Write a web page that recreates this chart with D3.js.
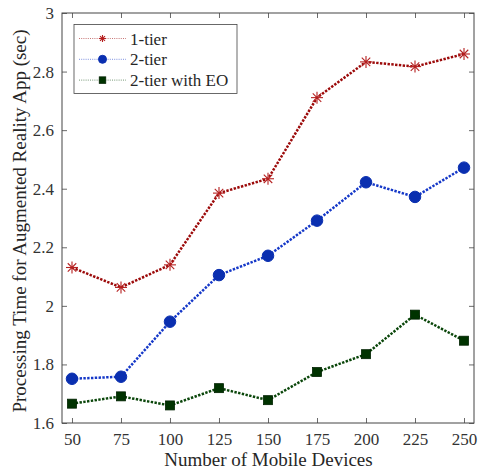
<!DOCTYPE html>
<html>
<head>
<meta charset="utf-8">
<script src="https://cdn.jsdelivr.net/npm/d3@7/dist/d3.min.js"></script>
<style>
  html, body { margin: 0; padding: 0; background: #fff; }
  svg { display: block; }
</style>
</head>
<body>
<svg id="chart" width="481" height="469"></svg>
<script>
// Number of mobile devices (x) and processing time in seconds (y)
const devices = [50, 75, 100, 125, 150, 175, 200, 225, 250];
const oneTier = [2.131, 2.063, 2.140, 2.385, 2.434, 2.711, 2.833, 2.817, 2.860];
const twoTier = [1.751, 1.758, 1.946, 2.105, 2.171, 2.291, 2.422, 2.372, 2.472];
const twoTierEO = [1.666, 1.691, 1.660, 1.719, 1.678, 1.774, 1.835, 1.970, 1.881];
const yTicks = [1.6, 1.8, 2, 2.2, 2.4, 2.6, 2.8, 3];
const seriesNames = ["1-tier", "2-tier", "2-tier with EO"];

const FONT = "Liberation Serif, Times New Roman, DejaVu Serif, serif";
const TEXT = "#262626";
const svg = d3.select("#chart").attr("font-family", FONT);
const m = { left: 62, top: 13, right: 474, bottom: 423 };

const x = d3.scaleLinear().domain([44.9, 255.1]).range([m.left, m.right]);
const y = d3.scaleLinear().domain([1.6, 3]).range([m.bottom, m.top]);

const series = [
  { name: seriesNames[0], values: oneTier, line: "#9c0a0a", mark: "#b52020", shape: "star" },
  { name: seriesNames[1], values: twoTier, line: "#1538c8", mark: "#0a2fb0", shape: "circle" },
  { name: seriesNames[2], values: twoTierEO, line: "#0a460a", mark: "#003300", shape: "square" }
];

// Axes: ticks point inward on all four sides
const axisColor = "#444";
const tickLen = 5;
function styleAxis(g) {
  g.attr("font-family", FONT).attr("font-size", 17);
  g.select(".domain").remove();
  g.selectAll(".tick line").attr("stroke", axisColor).attr("stroke-width", 0.8);
  g.selectAll(".tick text").attr("fill", "#333");
}
svg.append("g").attr("transform", `translate(0,${m.bottom})`)
  .call(d3.axisBottom(x).tickValues(devices).tickSizeInner(-tickLen).tickSizeOuter(0).tickPadding(9.5).tickFormat(d3.format("d")))
  .call(styleAxis);
svg.append("g").attr("transform", `translate(0,${m.top})`)
  .call(d3.axisTop(x).tickValues(devices).tickSizeInner(-tickLen).tickSizeOuter(0).tickFormat(""))
  .call(styleAxis);
svg.append("g").attr("transform", `translate(${m.left},0)`)
  .call(d3.axisLeft(y).tickValues(yTicks).tickSizeInner(-tickLen).tickSizeOuter(0).tickPadding(8).tickFormat(d => d3.format("")(d)))
  .call(styleAxis);
svg.append("g").attr("transform", `translate(${m.right},0)`)
  .call(d3.axisRight(y).tickValues(yTicks).tickSizeInner(-tickLen).tickSizeOuter(0).tickFormat(""))
  .call(styleAxis);

// Plot frame
svg.append("rect")
  .attr("x", m.left).attr("y", m.top)
  .attr("width", m.right - m.left).attr("height", m.bottom - m.top)
  .attr("fill", "none").attr("stroke", axisColor).attr("stroke-width", 1);

// Marker drawing helper
function drawMarker(g, shape, cx, cy, size, color) {
  if (shape === "circle") {
    g.append("circle").attr("cx", cx).attr("cy", cy).attr("r", size / 2)
      .attr("fill", color).attr("stroke", color);
  } else if (shape === "square") {
    g.append("rect").attr("x", cx - size / 2).attr("y", cy - size / 2)
      .attr("width", size).attr("height", size)
      .attr("fill", color).attr("stroke", "#002200").attr("stroke-width", 0.8);
  } else {
    const r = size / 2;
    for (let k = 0; k < 4; k++) {
      const a = k * Math.PI / 4;
      g.append("line")
        .attr("x1", cx - r * Math.cos(a)).attr("y1", cy - r * Math.sin(a))
        .attr("x2", cx + r * Math.cos(a)).attr("y2", cy + r * Math.sin(a))
        .attr("stroke", color).attr("stroke-width", 1.1);
    }
  }
}

const line = d3.line().x((d, i) => x(devices[i])).y(d => y(d));
const markerSize = { star: 12, circle: 11.5, square: 9 };

series.forEach(s => {
  const g = svg.append("g");
  g.append("path").datum(s.values)
    .attr("d", line).attr("fill", "none")
    .attr("stroke", s.line).attr("stroke-width", 2.5)
    .attr("stroke-dasharray", "2.4,1.4");
  s.values.forEach((v, i) => drawMarker(g, s.shape, x(devices[i]), y(v), markerSize[s.shape], s.mark));
});

// Legend
const lg = svg.append("g");
lg.append("rect").attr("x", 74).attr("y", 24.5).attr("width", 163).attr("height", 69)
  .attr("fill", "#fff").attr("stroke", axisColor).attr("stroke-width", 0.8);
const legendSize = { star: 7, circle: 8, square: 6.5 };
series.forEach((s, i) => {
  const ly = 38.5 + i * 20.8;
  lg.append("line").attr("x1", 79).attr("x2", 126).attr("y1", ly).attr("y2", ly)
    .attr("stroke", s.line).attr("stroke-width", 0.8).attr("stroke-dasharray", "1,1.2").attr("opacity", 0.7);
  drawMarker(lg, s.shape, 102.5, ly, legendSize[s.shape], s.mark);
  lg.append("text").attr("x", 130).attr("y", ly + 6)
    .attr("font-size", 17).attr("fill", TEXT).text(s.name);
});

// Axis titles
svg.append("text").attr("x", 268.5).attr("y", 466)
  .attr("text-anchor", "middle").attr("font-size", 19).attr("fill", TEXT)
  .text("Number of Mobile Devices");
svg.append("text")
  .attr("transform", `translate(26,221) rotate(-90)`)
  .attr("text-anchor", "middle").attr("font-size", 19).attr("fill", TEXT)
  .text("Processing Time for Augmented Reality App (sec)");
</script>
</body>
</html>
